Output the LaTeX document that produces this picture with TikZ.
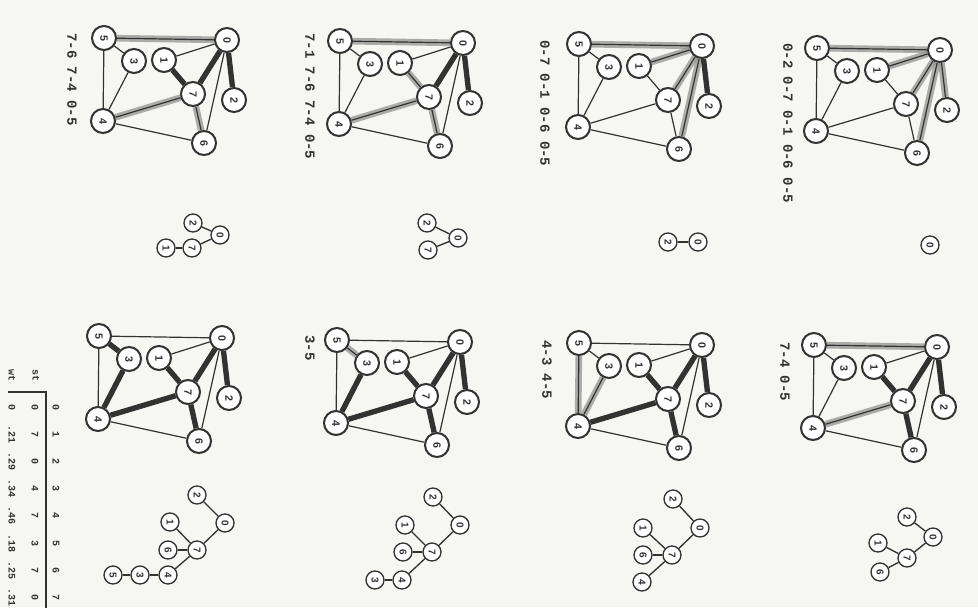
\documentclass[tikz,border=0pt]{standalone}
\usepackage{fontspec}
\newfontfamily\nfont{Liberation Sans}
\newfontfamily\lfont{Liberation Mono}
\pgfdeclarelayer{paper}
\pgfdeclarelayer{edges}
\pgfsetlayers{paper,edges,main}
\definecolor{paperc}{RGB}{246,246,243}
\definecolor{ink}{RGB}{50,50,50}
\tikzset{
  gn/.style={circle, draw=ink, line width=1.5pt, fill=white, minimum size=18pt, inner sep=0pt,
    font=\nfont\bfseries\fontsize{8}{8}\selectfont, text=ink, rotate=-90},
  tn/.style={circle, draw=ink, line width=1pt, fill=white, minimum size=13.5pt, inner sep=0pt,
    font=\nfont\bfseries\fontsize{7.5}{7.5}\selectfont, text=ink, rotate=-90},
  thinedge/.style={draw=ink, line width=0.9pt},
  halo/.style={draw=black!45, line width=5pt, opacity=0.7},
  treeedge/.style={draw=ink, line width=4pt},
  tedge/.style={draw=ink, line width=1pt},
  lab/.style={rotate=-90, anchor=west, inner sep=0pt, text=ink,
    font=\lfont\bfseries\fontsize{10.5}{10.5}\selectfont},
  tab/.style={rotate=-90, inner sep=0pt, text=ink,
    font=\lfont\bfseries\fontsize{7.5}{7.5}\selectfont},
}
% graph nodes
\newcommand{\mkgraph}[3]{%
  \begin{scope}[shift={(#2,#3)}]
    \node[gn] (#1-0) at (0,0) {0};
    \node[gn] (#1-5) at (-123,-2) {5};
    \node[gn] (#1-3) at (-93,21) {3};
    \node[gn] (#1-1) at (-63,20) {1};
    \node[gn] (#1-7) at (-34,54) {7};
    \node[gn] (#1-2) at (7,60) {2};
    \node[gn] (#1-4) at (-124,81) {4};
    \node[gn] (#1-6) at (-23,103) {6};
  \end{scope}}
\newcommand{\halos}[2]{\begin{pgfonlayer}{edges}\foreach \a/\b in {#2} {\draw[halo] (#1-\a) -- (#1-\b);}\end{pgfonlayer}}
\newcommand{\thins}[1]{\begin{pgfonlayer}{edges}\foreach \a/\b in {0/5,0/1,0/7,0/2,0/6,1/7,7/6,7/4,5/3,5/4,3/4,4/6} {\draw[thinedge] (#1-\a) -- (#1-\b);}\end{pgfonlayer}}
\newcommand{\thicks}[2]{\begin{pgfonlayer}{edges}\foreach \a/\b in {#2} {\draw[treeedge] (#1-\a) -- (#1-\b);}\end{pgfonlayer}}
\newcommand{\tedges}[2]{\foreach \a/\b in {#2} {\draw[tedge] (#1-\a) -- (#1-\b);}}
\begin{document}
\begin{tikzpicture}[x=0.75pt,y=-0.75pt]
\begin{pgfonlayer}{paper}
\fill[paperc] (0,0) rectangle (978,607);
\end{pgfonlayer}
\useasboundingbox (0,0) rectangle (978,607);

% ---------- panel A (col 4 top)
\mkgraph{A}{940}{50}
\halos{A}{0/2,0/7,0/1,0/6,0/5}
\thins{A}
\node[lab] (lA) at (788,43) {0-2 0-7 0-1 0-6 0-5};
\node[tn] (tA-0) at (930,245) {0};

% ---------- panel B (col 3 top)
\mkgraph{B}{702}{46}
\halos{B}{0/7,0/1,0/6,0/5}
\thins{B}
\thicks{B}{0/2}
\node[lab] (lB) at (545,40) {0-7 0-1 0-6 0-5};
\node[tn] (tB-0) at (698,242) {0};
\node[tn] (tB-2) at (668,242) {2};
\tedges{tB}{0/2}

% ---------- panel C (col 2 top)
\mkgraph{C}{463}{43}
\halos{C}{7/1,7/6,7/4,0/5}
\thins{C}
\thicks{C}{0/2,0/7}
\node[lab] (lC) at (310,33) {7-1 7-6 7-4 0-5};
\node[tn] (tC-0) at (458,238) {0};
\node[tn] (tC-2) at (427,223) {2};
\node[tn] (tC-7) at (428,250) {7};
\tedges{tC}{0/2,0/7}

% ---------- panel D (col 1 top)
\mkgraph{D}{227}{40}
\halos{D}{7/6,7/4,0/5}
\thins{D}
\thicks{D}{0/2,0/7,7/1}
\node[lab] (lD) at (72,33) {7-6 7-4 0-5};
\node[tn] (tD-0) at (220,235) {0};
\node[tn] (tD-2) at (193,223) {2};
\node[tn] (tD-7) at (192,248) {7};
\node[tn] (tD-1) at (166,248) {1};
\tedges{tD}{0/2,0/7,7/1}

% ---------- panel E (col 4 middle)
\mkgraph{E}{937}{347}
\halos{E}{7/4,0/5}
\thins{E}
\thicks{E}{0/2,0/7,7/1,7/6}
\node[lab] (lE) at (785,342) {7-4 0-5};
\node[tn] (tE-0) at (933,537) {0};
\node[tn] (tE-2) at (907,517) {2};
\node[tn] (tE-7) at (907,558) {7};
\node[tn] (tE-1) at (878,543) {1};
\node[tn] (tE-6) at (880,572) {6};
\tedges{tE}{0/2,0/7,7/1,7/6}

% ---------- panel F (col 3 middle)
\mkgraph{F}{702}{345}
\halos{F}{4/3,4/5}
\thins{F}
\thicks{F}{0/2,0/7,7/1,7/6,7/4}
\node[lab] (lF) at (547,340) {4-3 4-5};
\node[tn] (tF-0) at (700,528) {0};
\node[tn] (tF-2) at (673,499) {2};
\node[tn] (tF-7) at (672,555) {7};
\node[tn] (tF-1) at (643,528) {1};
\node[tn] (tF-6) at (643,555) {6};
\node[tn] (tF-4) at (642,582) {4};
\tedges{tF}{0/2,0/7,7/1,7/6,7/4}

% ---------- panel G (col 2 middle)
\mkgraph{G}{460}{342}
\halos{G}{3/5}
\thins{G}
\thicks{G}{0/2,0/7,7/1,7/6,7/4,4/3}
\node[lab] (lG) at (310,335) {3-5};
\node[tn] (tG-0) at (460,525) {0};
\node[tn] (tG-2) at (433,497) {2};
\node[tn] (tG-7) at (432,552) {7};
\node[tn] (tG-1) at (405,525) {1};
\node[tn] (tG-6) at (403,552) {6};
\node[tn] (tG-4) at (402,580) {4};
\node[tn] (tG-3) at (375,580) {3};
\tedges{tG}{0/2,0/7,7/1,7/6,7/4,4/3}

% ---------- panel H (col 1 middle)
\mkgraph{H}{222}{338}
\thins{H}
\thicks{H}{0/2,0/7,7/1,7/6,7/4,4/3,3/5}
\node[tn] (tH-0) at (225,523) {0};
\node[tn] (tH-2) at (197,495) {2};
\node[tn] (tH-7) at (197,550) {7};
\node[tn] (tH-1) at (170,522) {1};
\node[tn] (tH-6) at (168,550) {6};
\node[tn] (tH-4) at (168,575) {4};
\node[tn] (tH-3) at (140,575) {3};
\node[tn] (tH-5) at (113,575) {5};
\tedges{tH}{0/2,0/7,7/1,7/6,7/4,4/3,3/5}

% ---------- table
\begin{scope}
\clip (0,0) rectangle (978,607);
\node[tab] (st) at (36,375) {st};
\node[tab] (wt) at (12,375) {wt};
\coordinate (ta) at (8,392);
\coordinate (tb) at (46,392);
\coordinate (tc) at (46,610);
\draw[ink, line width=0.8pt] (ta) -- (tb) -- (tc);
\foreach \i/\s/\w [count=\k from 0] in {0/0/0,1/7/.21,2/0/.29,3/4/.34,4/7/.46,5/3/.18,6/7/.25,7/0/.31} {
  \node[tab] (h\k) at (56,407+27.2*\k) {\i};
  \node[tab] (s\k) at (35,407+27.2*\k) {\s};
  \node[tab] (w\k) at (12,407+27.2*\k) {\w};
}
\end{scope}
\end{tikzpicture}
\end{document}
